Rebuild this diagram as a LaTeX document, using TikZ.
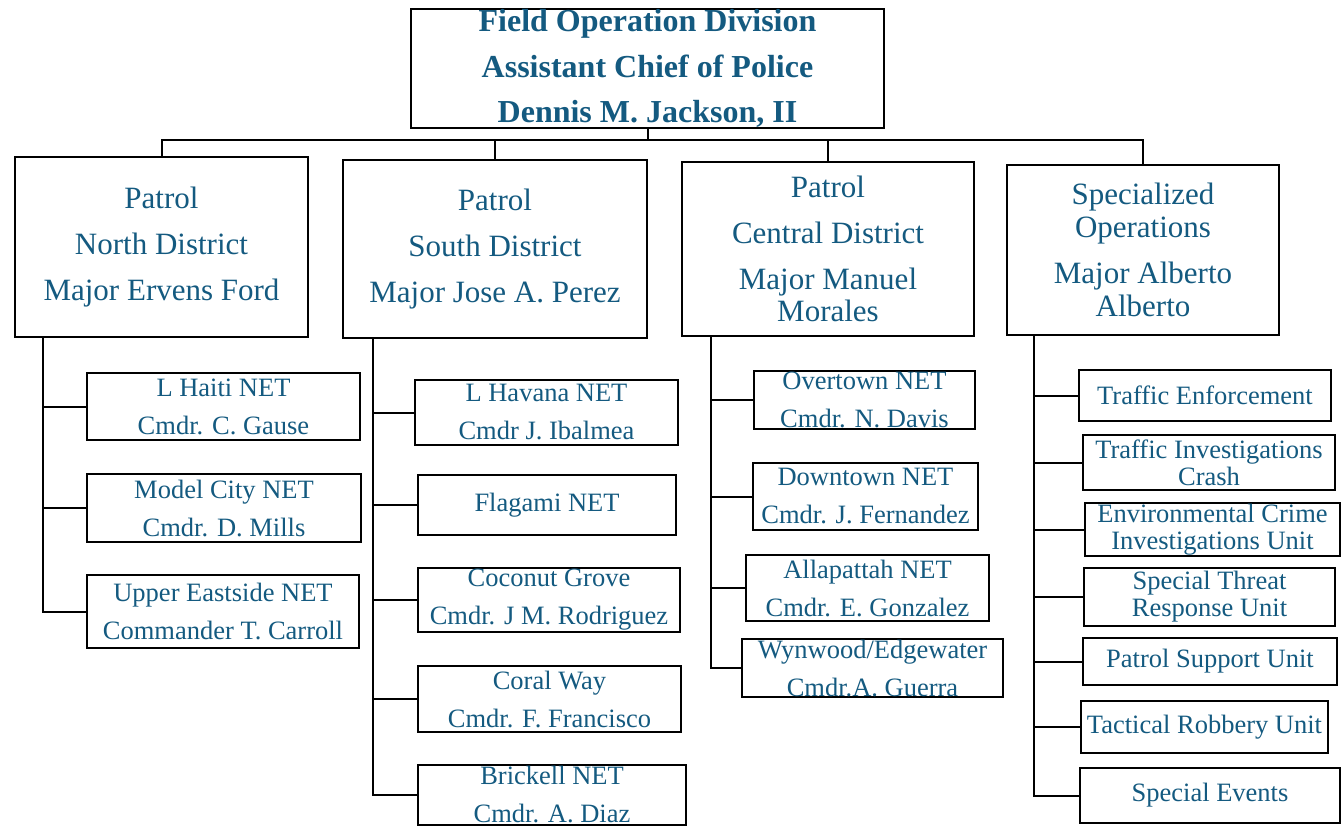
\documentclass[tikz,border=0pt]{standalone}
\usepackage{fontspec}
\setmainfont{Liberation Serif}
\usepackage{tikz}
\usetikzlibrary{arrows.meta, positioning}
\usepackage{xcolor}
\definecolor{orgblue}{RGB}{20,90,128}
\tikzset{%
	org box/.style={
		draw=black,
		line width=2pt,
		fill=white,
		align=center,
		inner sep=0pt,
		text=orgblue
	},
	division box/.style={
		org box,
		font=\fontsize{32}{45.5}\selectfont\bfseries
	},
	district box/.style={
		org box,
		font=\fontsize{31}{46}\selectfont
	},
	net box/.style={
		org box,
		font=\fontsize{26.5}{38}\selectfont
	},
	unit box/.style={
		org box,
		font=\fontsize{26.5}{27}\selectfont
	},
}

\begin{document}
\begin{tikzpicture}[
				x=1pt, y=-1pt,
				line width=2pt
				]
				\useasboundingbox (0,0) rectangle (1341,827);
				% head of the division
				\node[division box, minimum width=473pt, minimum height=117pt] (fod) at (647.5,68.5)
					{Field Operation Division\\Assistant Chief of Police\\Dennis M. Jackson, II};
				% districts
				\node[district box, minimum width=293pt, minimum height=180pt] (north) at (161.5,247)
					{Patrol\\North District\\Major Ervens Ford};
				\node[district box, minimum width=304pt, minimum height=178pt] (south) at (495,249)
					{Patrol\\South District\\Major Jose A. Perez};
				\node[district box, minimum width=292pt, minimum height=174pt] (central) at (828,249)
					{Patrol\\Central District\\Major Manuel\\[-14pt]Morales};
				\node[district box, minimum width=272pt, minimum height=170pt] (special) at (1143,250)
					{Specialized\\[-13pt]Operations\\Major Alberto\\[-13pt]Alberto};
				% north district
				\node[net box, minimum width=273pt, minimum height=67pt] (nhaiti) at (223.5,406.5)
					{L Haiti NET\\Cmdr. C. Gause};
				\node[net box, minimum width=274pt, minimum height=68pt] (nmodel) at (224,508)
					{Model City NET\\Cmdr. D. Mills};
				\node[net box, minimum width=272pt, minimum height=73pt] (nupper) at (223,611.5)
					{Upper Eastside NET\\Commander T. Carroll};
				% south district
				\node[net box, minimum width=263pt, minimum height=65pt] (shavana) at (546.5,412.5)
					{L Havana NET\\Cmdr J. Ibalmea};
				\node[net box, minimum width=258pt, minimum height=60pt] (sflagami) at (547,505)
					{Flagami NET};
				\node[net box, minimum width=262pt, minimum height=64pt] (scoconut) at (549,600)
					{Coconut Grove\\Cmdr. J M. Rodriguez};
				\node[net box, minimum width=263pt, minimum height=66pt] (scoral) at (549.5,699)
					{Coral Way\\Cmdr. F. Francisco};
				\node[net box, minimum width=268pt, minimum height=60pt] (sbrickell) at (552,794.5)
					{Brickell NET\\Cmdr. A. Diaz};
				% central district
				\node[net box, minimum width=221pt, minimum height=58pt] (covertown) at (864.5,400)
					{Overtown NET\\Cmdr. N. Davis};
				\node[net box, minimum width=225pt, minimum height=67pt] (cdowntown) at (865.5,496.5)
					{Downtown NET\\Cmdr. J. Fernandez};
				\node[net box, minimum width=243pt, minimum height=66pt] (callapattah) at (867.5,588)
					{Allapattah NET\\Cmdr. E. Gonzalez};
				\node[net box, minimum width=261pt, minimum height=58pt] (cwynwood) at (872.5,668)
					{Wynwood/Edgewater\\Cmdr.A. Guerra};
				% specialized operations
				\node[unit box, minimum width=252pt, minimum height=51pt] (otraffic) at (1205,395.5)
					{Traffic Enforcement};
				\node[unit box, minimum width=252pt, minimum height=55pt] (ocrash) at (1209,462.5)
					{Traffic Investigations\\Crash};
				\node[unit box, minimum width=255pt, minimum height=53pt] (oenv) at (1212.5,529.5)
					{Environmental Crime\\Investigations Unit};
				\node[unit box, minimum width=251pt, minimum height=58pt] (othreat) at (1209.5,597)
					{Special Threat\\Response Unit};
				\node[unit box, minimum width=254pt, minimum height=47pt] (osupport) at (1210,661.5)
					{Patrol Support Unit};
				\node[unit box, minimum width=247pt, minimum height=52pt] (otactical) at (1204.5,727)
					{Tactical Robbery Unit};
				\node[unit box, minimum width=260pt, minimum height=55pt] (oevents) at (1210,795.5)
					{Special Events};
				% connectors
				\coordinate (bus) at (647.5,140);
				\draw (fod.south) -- (bus);
				\draw (north.north) |- (bus) -| (special.north);
				\draw (south.north) -- (south.north |- bus);
				\draw (central.north) -- (central.north |- bus);
				\coordinate (nspine) at (43,337);
				\coordinate (sspine) at (373,338);
				\coordinate (cspine) at (711,336);
				\coordinate (ospine) at (1034,335);
				\foreach \n in {nhaiti,nmodel,nupper}
					\draw (nspine) |- (\n.west);
				\foreach \n in {shavana,sflagami,scoconut,scoral,sbrickell}
					\draw (sspine) |- (\n.west);
				\foreach \n in {covertown,cdowntown,callapattah,cwynwood}
					\draw (cspine) |- (\n.west);
				\foreach \n in {otraffic,ocrash,oenv,othreat,osupport,otactical,oevents}
					\draw (ospine) |- (\n.west);
			\end{tikzpicture}
\end{document}
